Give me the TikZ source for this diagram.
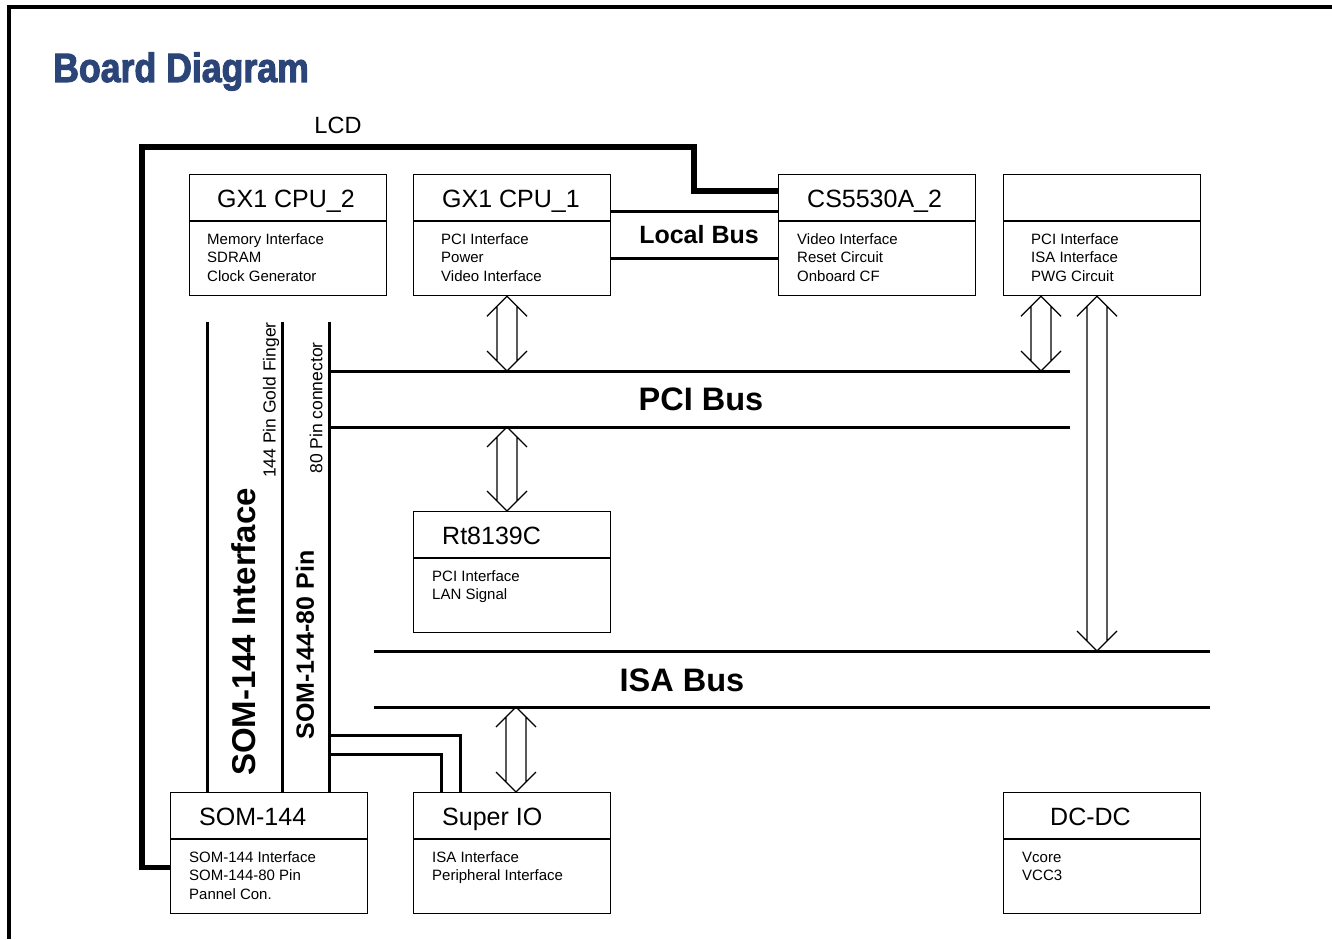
\documentclass[tikz,border=0pt]{standalone}
\usepackage{fontspec}
\setmainfont{Liberation Sans}
\newfontfamily\headfont[FakeStretch=0.87,FakeBold=2.5]{Liberation Sans Bold}
\usetikzlibrary{calc}
\definecolor{titleblue}{RGB}{43,69,120}

\tikzset{
  blk/.style={draw, line width=1.3pt, minimum width=197pt, minimum height=121pt,
    inner sep=0pt, anchor=north west},
  blktitle/.style={anchor=base west, inner sep=0pt, font=\fontsize{25}{30}\selectfont},
  blkbody/.style={anchor=north west, inner sep=0pt, align=left,
    font=\fontsize{15}{18.6}\selectfont},
  bus/.style={line width=3pt},
  lcdwire/.style={line width=5.5pt},
  busname/.style={font=\bfseries\fontsize{32.5}{36}\selectfont},
  twoway/.style={line width=1.3pt},
}

% Hollow two-way arrow between an upper tip and a lower tip.
\newcommand{\bidir}[2]{%
  \draw[twoway]
    % two shafts
    ($(#1)+(-10,10)$) -- ($(#2)+(-10,-10)$)
    ($(#1)+(10,10)$) -- ($(#2)+(10,-10)$)
    % upper head
    ($(#1)+(-20,20)$) -- (#1) -- ($(#1)+(20,20)$)
    % lower head
    ($(#2)+(-20,-20)$) -- (#2) -- ($(#2)+(20,-20)$);}

\begin{document}
\begin{tikzpicture}[x=1pt,y=-1pt]

\useasboundingbox (0,0) rectangle (1332,939);

% Page frame, cut off at right and bottom.
\draw[line width=3.5pt] (9,939) -- (9,7) -- (1332,7);

% Heading.
\node[anchor=base west, inner sep=0pt, text=titleblue,
      font=\headfont\fontsize{41}{46}\selectfont] (title) at (53,82) {Board Diagram};

% Loop for each block: name/x/y/title offset/body offset/title/body.
\foreach \n/\x/\y/\tx/\bx/\ttl/\body in {
    gxb/189/174/28/18/{GX1 CPU\_2}/{Memory Interface\\SDRAM\\Clock Generator},
    gxa/413/174/29/28/{GX1 CPU\_1}/{PCI Interface\\Power\\Video Interface},
    cs/778/174/29/19/{CS5530A\_2}/{Video Interface\\Reset Circuit\\Onboard CF},
    brg/1003/174/29/28/{}/{PCI Interface\\ISA Interface\\PWG Circuit},
    rtl/413/511/29/19/{Rt8139C}/{PCI Interface\\LAN Signal},
    som/170/792/29/19/{SOM-144}/{SOM-144 Interface\\SOM-144-80 Pin\\Pannel Con.},
    sio/413/792/29/19/{Super IO}/{ISA Interface\\Peripheral Interface},
    dcdc/1003/792/47/19/{DC-DC}/{Vcore\\VCC3}} {

    % Draw block body and its divider.
    \node[blk] (\n) at (\x,\y) {};
    \draw[line width=1.3pt]
        ($(\n.north west)+(0,47)$) -- ($(\n.north east)+(0,47)$);

    % Title and body text (first baseline 70 below the top). End loop.
    \node[blktitle] (\n-title) at ($(\n.north west)+(\tx,33)$) {\ttl};
    \node[blkbody] (\n-body) at ($(\n.north west)+(\bx,58)$) {\rule{0pt}{12pt}\body};
}

% Local bus between GX1 CPU_1 and CS5530A_2.
\draw[bus]
    ($(gxa.north east)+(0,37)$) -- ($(cs.north west)+(0,37)$)
    ($(gxa.north east)+(0,84)$) -- ($(cs.north west)+(0,84)$);
\node[font=\bfseries\fontsize{25}{30}\selectfont] (localbus) at (699,235) {Local Bus};

% LCD wire from SOM-144 round to CS5530A_2.
\coordinate (lcdbend) at (694,147);
\draw[lcdwire]
    ($(som.south west)+(0,-47)$) -- ++(-28,0)
    |- (lcdbend)
    |- ($(cs.north west)+(0,17)$);
\node[font=\fontsize{23.5}{28}\selectfont] (lcdlbl) at (338,125) {LCD};

% PCI bus.
\coordinate (pciL) at (329,371);
\coordinate (pciR) at (1070,371);
\draw[bus]
    (pciL) -- (pciR)
    ($(pciL)+(0,56)$) -- ($(pciR)+(0,56)$);
\node[busname] (pcibus) at (701,399) {PCI Bus};

% ISA bus.
\coordinate (isaL) at (374,651);
\coordinate (isaR) at (1210,651);
\draw[bus]
    (isaL) -- (isaR)
    ($(isaL)+(0,56)$) -- ($(isaR)+(0,56)$);
\node[busname] (isabus) at (682,680) {ISA Bus};

% SOM-144 connector lines.
\coordinate (ifline) at (207,322);
\coordinate (goldline) at (282,322);
\coordinate (pinline) at (329,322);
\foreach \c in {ifline,goldline,pinline}
    \draw[bus] (\c) -- (\c |- som.north);

% Rotated labels along the connector lines.
\node[rotate=90, font=\bfseries\fontsize{33}{36}\selectfont] (somif) at (244,632) {SOM-144 Interface};
\node[rotate=90, font=\fontsize{17.5}{20}\selectfont] (goldf) at (271,400) {144 Pin Gold Finger};
\node[rotate=90, font=\fontsize{17.5}{20}\selectfont] (conn80) at (316,408) {80 Pin connector};
\node[rotate=90, font=\bfseries\fontsize{25}{30}\selectfont] (som80) at (305,645) {SOM-144-80 Pin};

% 80 pin lines into Super IO.
\coordinate (sioa) at (329,735);
\coordinate (siob) at (329,754);
\draw[bus] (sioa) -| ($(sio.north west)+(47,0)$);
\draw[bus] (siob) -| ($(sio.north west)+(28,0)$);

% Two-way arrows onto the buses.
\coordinate (pcia) at (507,371);
\coordinate (pcib) at (1041,371);
\coordinate (pcic) at (507,427);
\coordinate (isaa) at (1097,651);
\coordinate (isab) at (516,707);
\coordinate (gxaS) at (gxa.south -| pcia);
\coordinate (brgS) at (brg.south -| pcib);
\coordinate (brgT) at (brg.south -| isaa);
\coordinate (rtlN) at (rtl.north -| pcic);
\coordinate (sioN) at (sio.north -| isab);
\bidir{gxaS}{pcia}
\bidir{brgS}{pcib}
\bidir{brgT}{isaa}
\bidir{pcic}{rtlN}
\bidir{isab}{sioN}

\end{tikzpicture}
\end{document}
